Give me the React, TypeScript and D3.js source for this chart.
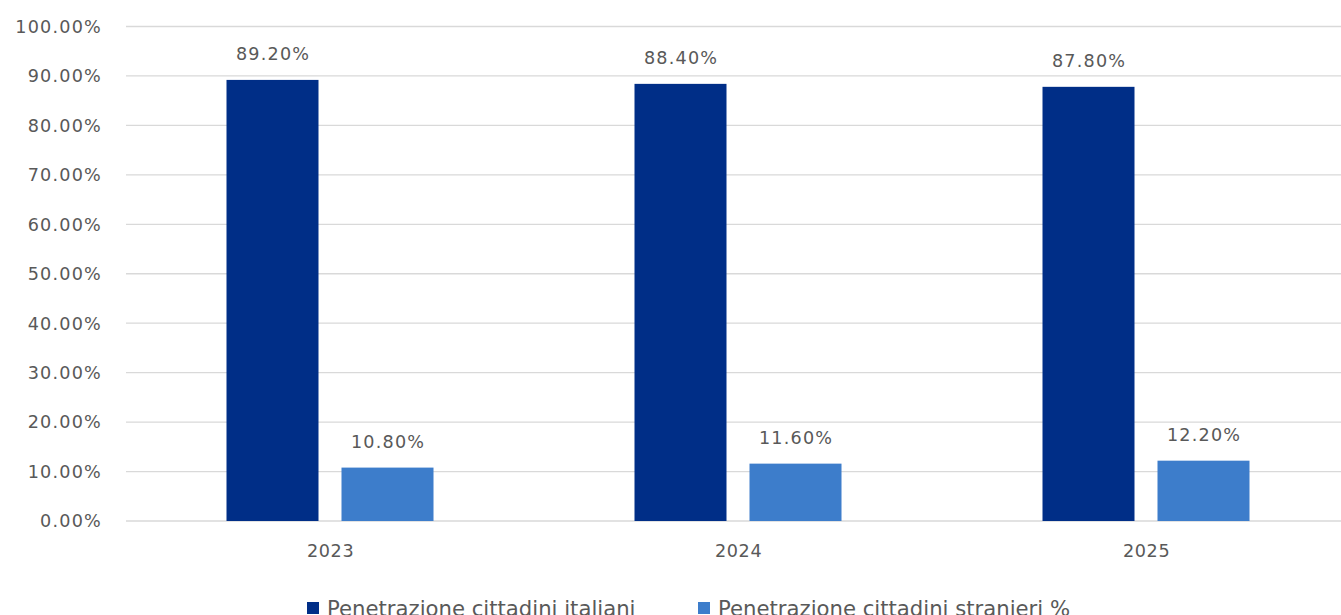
import React from "react";
import * as d3 from "d3";

const categories = ["2023", "2024", "2025"];
const seriesNames = ["Penetrazione cittadini italiani", "Penetrazione cittadini stranieri %"];
const italiani = [89.2, 88.4, 87.8];
const stranieri = [10.8, 11.6, 12.2];
const yTicks = [0, 10, 20, 30, 40, 50, 60, 70, 80, 90, 100];
const colors = ["#002e87", "#3d7dcb"];

export default function App() {
  const W = 1341, H = 615;
  const x = d3.scaleBand().domain(categories).range([126, 1350]).paddingInner(0).paddingOuter(0);
  const y = d3.scaleLinear().domain([0, 100]).range([521, 26.5]);
  const barW = 92;
  const gap = 23;
  const series = [italiani, stranieri];
  const font = "'DejaVu Sans', sans-serif";
  const textColor = "#595959";
  const fs = 17.6;
  const ls = 1.2;
  return (
    <svg width={W} height={H} style={{ position: "absolute", left: 0, top: 0, background: "#fff" }} fontFamily={font}>
      {yTicks.map((t) => (
        <g key={t}>
          <line x1={126} x2={W} y1={y(t)} y2={y(t)} stroke="#d9d9d9" strokeWidth={1.3} />
          <text x={102} y={y(t)} dy="0.36em" textAnchor="end" fontSize={fs} letterSpacing={ls} fill={textColor}>
            {d3.format(".2f")(t) + "%"}
          </text>
        </g>
      ))}
      {categories.map((c, i) => {
        const cx = (x(c) as number) + x.bandwidth() / 2;
        const start = cx - (2 * barW + gap) / 2;
        return (
          <g key={c}>
            {series.map((s, k) => {
              const bx = start + k * (barW + gap);
              return (
                <g key={k}>
                  <rect x={bx} y={y(s[i])} width={barW} height={y(0) - y(s[i])} fill={colors[k]} />
                  <text x={bx + barW / 2 + ls / 2} y={y(s[i]) - 20} textAnchor="middle" fontSize={fs} letterSpacing={ls} fill={textColor}>
                    {d3.format(".2f")(s[i]) + "%"}
                  </text>
                </g>
              );
            })}
            <text x={cx + ls / 2} y={y(0) + 36} textAnchor="middle" fontSize={fs} letterSpacing={ls * 0.5} fill={textColor}>
              {c}
            </text>
          </g>
        );
      })}
      {seriesNames.map((n, k) => {
        const lx = [307, 698][k];
        return (
          <g key={n}>
            <rect x={lx} y={602} width={12} height={12} fill={colors[k]} />
            <text x={lx + 20} y={616} fontSize={21.2} fill={textColor}>
              {n}
            </text>
          </g>
        );
      })}
    </svg>
  );
}
